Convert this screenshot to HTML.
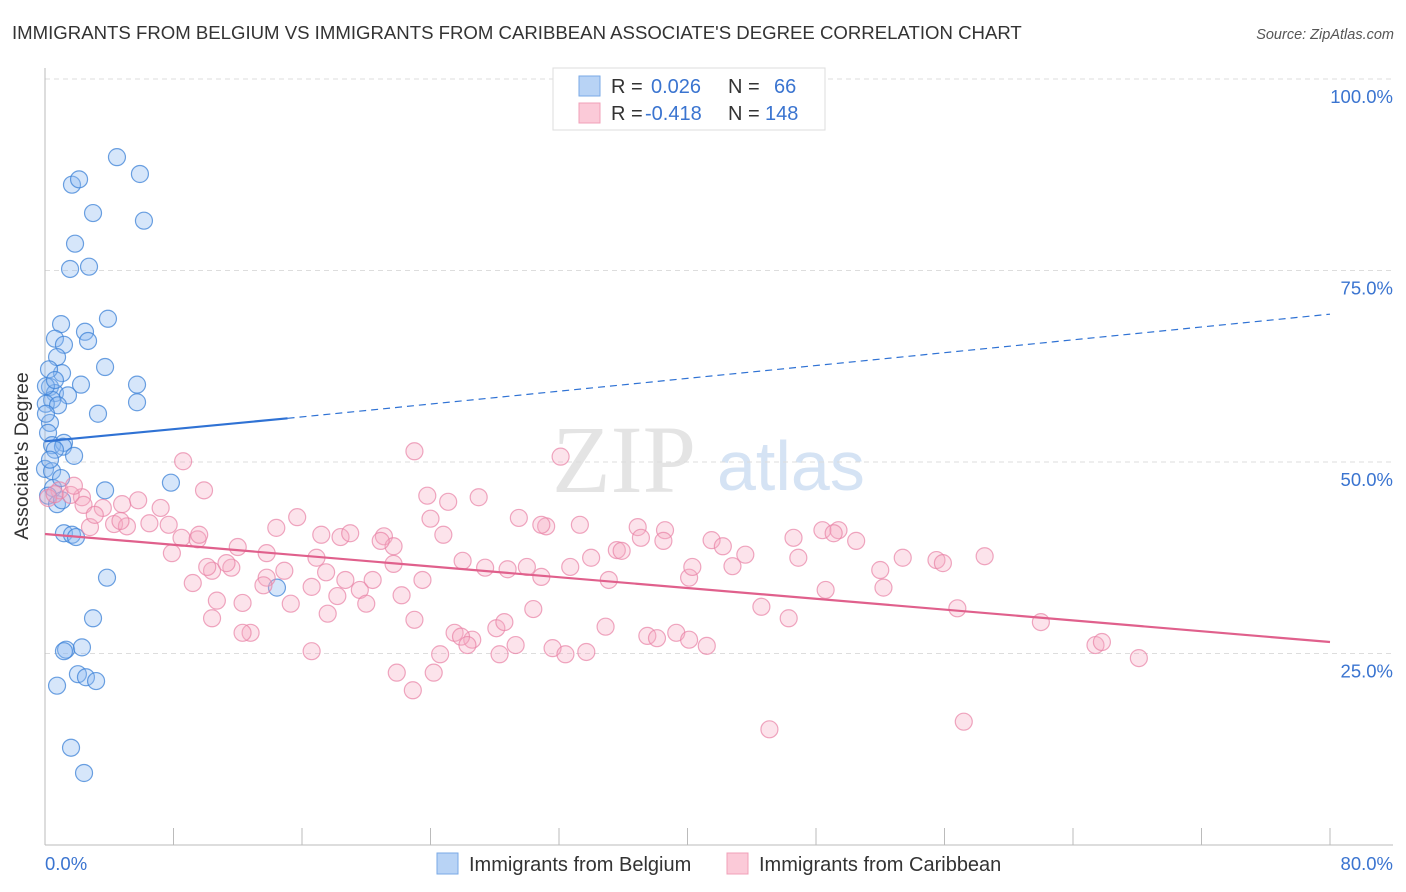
<!DOCTYPE html>
<html><head><meta charset="utf-8"><style>
body{margin:0;background:#fff;font-family:"Liberation Sans",sans-serif;}
svg{display:block}
</style></head><body>
<svg id="chart" width="1406" height="892" xmlns="http://www.w3.org/2000/svg">
<text x="12" y="39" font-size="18.6" fill="#333">IMMIGRANTS FROM BELGIUM VS IMMIGRANTS FROM CARIBBEAN ASSOCIATE'S DEGREE CORRELATION CHART</text>
<text x="1394" y="39" font-size="14.5" fill="#555" font-style="italic" text-anchor="end">Source: ZipAtlas.com</text>
<g>
<text x="552" y="492" font-size="96" font-family="Liberation Serif,serif" fill="#e4e4e4">ZIP</text>
<text x="717" y="490" font-size="70" fill="#d5e3f4">atlas</text>
</g>
<g id="grid"></g>
<g id="axes"></g>
<g id="blue"></g>
<g id="pink"></g>
<g id="trends"></g>
<text x="28" y="456" font-size="19.5" fill="#333" text-anchor="middle" transform="rotate(-90 28 456)">Associate's Degree</text>
<g>
<rect x="553" y="68" width="272" height="62" fill="#fff" stroke="#ddd"/>
<rect x="579" y="76" width="21" height="20" fill="#b8d3f5" stroke="#7aaae6"/>
<rect x="579" y="103" width="21" height="20" fill="#fbcad8" stroke="#f0a0b8"/>
<text x="611" y="93" font-size="20" fill="#333">R = <tspan fill="#3a74d0" x="651">0.026</tspan></text>
<text x="728" y="93" font-size="20" fill="#333">N = <tspan fill="#3a74d0" x="774">66</tspan></text>
<text x="611" y="120" font-size="20" fill="#333">R = <tspan fill="#3a74d0" x="645">-0.418</tspan></text>
<text x="728" y="120" font-size="20" fill="#333">N = <tspan fill="#3a74d0" x="765">148</tspan></text>
</g>
<g>
<rect x="437" y="853" width="21" height="21" fill="#b8d3f5" stroke="#7aaae6"/>
<text x="469" y="871" font-size="20" fill="#333">Immigrants from Belgium</text>
<rect x="727" y="853" width="21" height="21" fill="#fbcad8" stroke="#f0a0b8"/>
<text x="759" y="871" font-size="20" fill="#333">Immigrants from Caribbean</text>
</g>
</svg>
<script>
const yTicks=[25,50,75,100];
const yTickLabels=["25.0%","50.0%","75.0%","100.0%"];
const xTicks=[0,8,16,24,32,40,48,56,64,72,80];
const xEndLabels=["0.0%","80.0%"];
const belgiumX=[4.48,5.91,1.68,2.12,2.99,6.16,1.87,1.56,2.74,3.92,1.0,2.49,2.68,0.62,1.18,0.75,3.74,1.06,0.25,2.24,5.73,0.31,0.62,1.43,0.44,5.73,0.05,0.81,3.3,0.31,0.06,0.19,0.44,1.18,1.12,0.62,1.81,0,0.44,0.5,3.74,7.84,1.0,1.18,1.68,1.93,2.99,3.86,14.44,1.31,1.18,2.3,2.05,2.55,3.18,0.75,1.62,2.43,0.31,0.19,0.75,1.06,0.06,0.62];
const belgiumY=[89.8,87.6,86.2,86.9,82.5,81.5,78.5,75.2,75.5,68.7,68.0,67.0,65.8,66.1,65.3,63.7,62.4,61.6,62.1,60.1,60.1,59.8,59.0,58.7,58.1,57.8,57.6,57.4,56.3,55.1,56.3,53.8,52.2,52.5,52.0,51.6,50.8,49.1,48.8,46.6,46.3,47.3,47.9,40.7,40.5,40.2,29.6,34.9,33.6,25.5,25.3,25.8,22.3,21.9,21.4,20.8,12.7,9.4,50.3,45.6,44.5,45.0,59.9,60.7];
const caribX=[23.0,32.1,8.6,9.9,23.8,25.1,27.0,5.8,7.2,3.6,4.8,2.3,2.4,0.9,1.6,0.2,2.8,4.3,5.1,6.5,8.5,9.5,7.7,9.6,12.0,13.8,15.7,14.4,17.2,18.4,19.0,21.1,21.7,20.9,24.0,24.8,29.5,31.2,33.3,36.9,38.6,37.1,38.5,41.5,42.2,43.6,46.6,48.4,49.4,49.1,50.5,53.4,55.5,55.9,58.5,34.0,35.6,35.9,26.0,27.4,28.8,30.0,30.9,32.7,35.1,40.1,40.3,42.8,46.9,52.0,52.2,48.6,7.9,10.4,11.6,10.1,11.3,13.8,14.9,16.9,17.5,18.7,19.6,20.4,21.7,22.2,23.5,9.2,10.7,12.3,13.6,15.3,16.6,18.2,20.0,10.4,17.6,12.8,12.3,16.6,23.0,25.5,26.6,28.1,28.6,30.4,31.6,32.4,33.7,34.9,37.5,38.1,39.3,40.1,41.2,44.6,46.3,56.8,62.0,65.4,65.8,68.1,21.9,22.9,24.2,24.6,28.3,29.3,25.9,26.3,45.1,57.2,30.9,4.7,0.6,1.8,3.1];
const caribY=[51.4,50.7,50.1,46.3,45.6,44.8,45.4,45.0,44.0,44.0,44.5,45.4,44.4,46.3,45.7,45.3,41.5,41.9,41.6,42.0,40.1,39.9,41.8,40.5,38.9,38.1,42.8,41.4,40.5,40.2,40.7,40.3,39.0,39.7,42.6,40.5,42.7,41.6,41.8,41.5,41.1,40.1,39.7,39.8,39.0,37.9,40.1,41.1,41.1,40.7,39.7,37.5,37.2,36.8,37.7,37.5,38.5,38.4,37.1,36.2,36.0,36.3,35.0,36.3,34.6,34.9,36.3,36.4,37.5,35.9,33.6,33.3,38.1,35.8,36.2,36.3,36.8,34.9,35.8,37.5,35.6,34.6,33.3,34.6,36.7,32.6,34.6,34.2,31.9,31.6,33.9,31.5,33.7,32.5,31.5,29.6,30.2,27.7,27.7,25.3,29.4,27.7,26.8,28.3,29.1,30.8,25.7,24.9,25.2,28.5,27.3,27.0,27.7,26.8,26.0,31.1,29.6,30.9,29.1,26.1,26.5,24.4,22.5,20.2,22.5,24.9,24.9,26.1,27.2,26.1,15.1,16.1,41.8,42.3,45.8,46.9,43.1];
const blueTrendX=[0,15.1,80];
const blueTrendY=[52.7,55.7,69.3];
const pinkTrendX=[0,80];
const pinkTrendY=[40.6,26.5];

const NS="http://www.w3.org/2000/svg";
const X0=45,X1=1330,Y0=845,Y100=79;
const sx=v=>X0+(v/80)*(X1-X0);
const sy=v=>Y0-(v/100)*(Y0-Y100);
function mk(tag,attrs,parent){const e=document.createElementNS(NS,tag);for(const k in attrs)e.setAttribute(k,attrs[k]);parent.appendChild(e);return e;}
const grid=document.getElementById('grid'),axes=document.getElementById('axes');
yTicks.forEach((t,i)=>{
  const l=mk('line',{x1:X0,x2:1393,y1:sy(t),y2:sy(t),stroke:'#ddd','stroke-dasharray':'5,4'},grid);
  
  
  const tx=mk('text',{x:1393,y:sy(t)+24,'font-size':18.5,fill:'#3a74d0','text-anchor':'end'},axes);
  tx.textContent=yTickLabels[i];
  
  
});
const al=mk('line',{x1:X0,x2:X0,y1:68,y2:Y0,stroke:'#bbb'},axes);


const xl=mk('line',{x1:X0,x2:1393,y1:Y0,y2:Y0,stroke:'#bbb'},axes);


xTicks.forEach(t=>{
  const l=mk('line',{x1:sx(t),x2:sx(t),y1:828,y2:Y0,stroke:'#bbb'},axes);
  
  
});
const xa=mk('text',{x:X0,y:870,'font-size':18.5,fill:'#3a74d0'},axes);xa.textContent=xEndLabels[0];


const xb=mk('text',{x:1393,y:870,'font-size':18.5,fill:'#3a74d0','text-anchor':'end'},axes);xb.textContent=xEndLabels[1];


function pts(xs,ys,g,fill,stroke,name){
  xs.forEach((x,i)=>{
    const c=mk('circle',{cx:sx(x),cy:sy(ys[i]),r:8.5,fill:fill,stroke:stroke,'stroke-width':1.2},g);
    
    
  });
}
pts(caribX,caribY,document.getElementById('pink'),'rgba(246,170,195,0.33)','rgba(232,130,165,0.7)','caribbean-point');
pts(belgiumX,belgiumY,document.getElementById('blue'),'rgba(140,185,240,0.36)','rgba(60,130,215,0.75)','belgium-point');
const tr=document.getElementById('trends');
const b1=mk('line',{x1:sx(blueTrendX[0]),y1:sy(blueTrendY[0]),x2:sx(blueTrendX[1]),y2:sy(blueTrendY[1]),stroke:'#2f72d4','stroke-width':2.2},tr);


const b2=mk('line',{x1:sx(blueTrendX[1]),y1:sy(blueTrendY[1]),x2:sx(blueTrendX[2]),y2:sy(blueTrendY[2]),stroke:'#2f72d4','stroke-width':1.2,'stroke-dasharray':'7,5'},tr);


const p1=mk('line',{x1:sx(pinkTrendX[0]),y1:sy(pinkTrendY[0]),x2:sx(pinkTrendX[1]),y2:sy(pinkTrendY[1]),stroke:'#e0608c','stroke-width':2.2},tr);


</script>
</body></html>
